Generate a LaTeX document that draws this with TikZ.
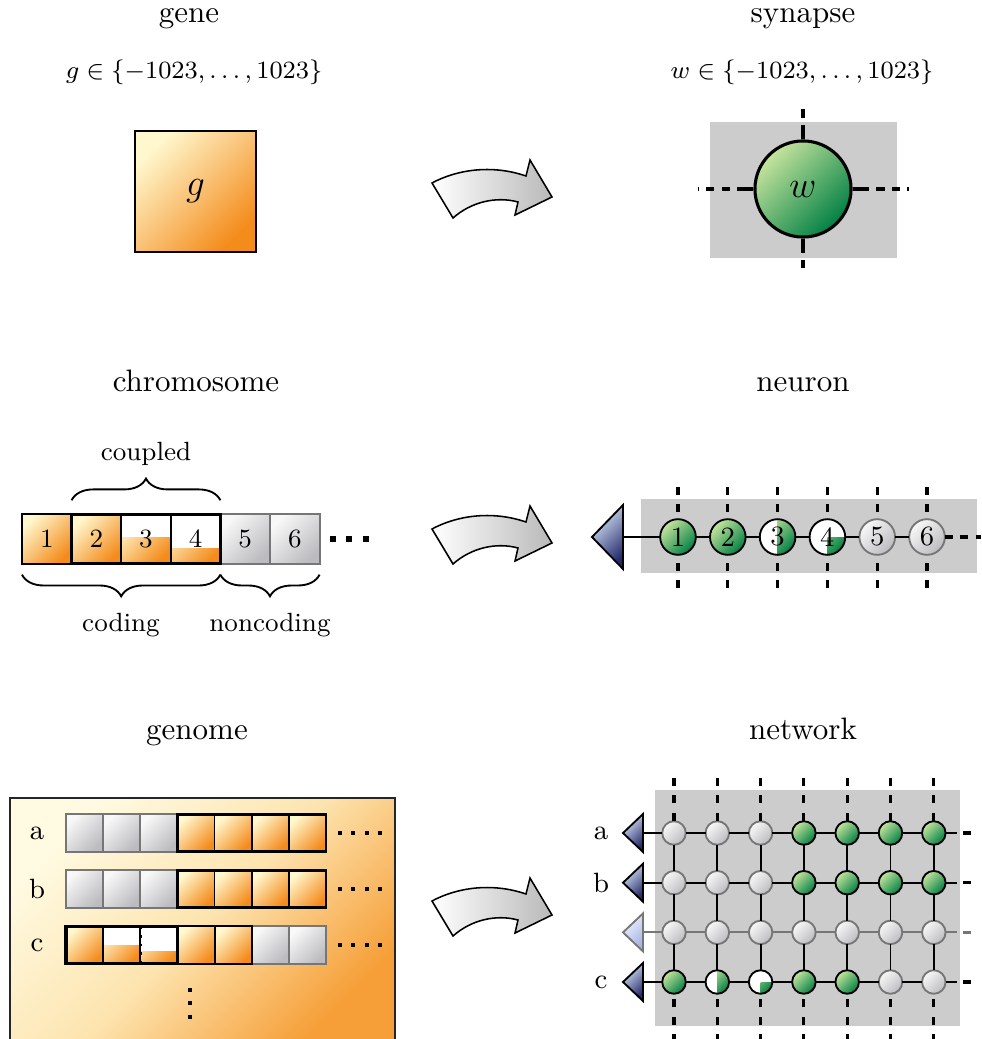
\documentclass[tikz,border=0pt]{standalone}
\usepackage{amsmath}
\usetikzlibrary{positioning,calc,decorations.pathreplacing}

\definecolor{orL}{RGB}{255,247,205}
\definecolor{orD}{RGB}{244,140,28}
\definecolor{boxL}{RGB}{255,250,225}
\definecolor{boxM}{RGB}{253,228,175}
\definecolor{boxD}{RGB}{246,158,55}
\definecolor{grL}{RGB}{248,248,248}
\definecolor{grD}{RGB}{188,188,192}
\definecolor{gnL}{RGB}{198,228,158}
\definecolor{gnD}{RGB}{0,128,68}
\definecolor{blL}{RGB}{218,234,250}
\definecolor{blD}{RGB}{38,42,108}
\definecolor{fadeL}{RGB}{240,245,255}
\definecolor{fadeD}{RGB}{165,178,228}
\definecolor{bgGray}{RGB}{204,204,204}
\definecolor{edgeGray}{RGB}{118,118,118}
\definecolor{arrowGray}{RGB}{185,185,185}

\tikzset{
    orangefill/.style={top color=orL, bottom color=orD, shading angle=45},
    grayfill/.style={top color=grL, bottom color=grD, shading angle=45},
    greenfill/.style={top color=gnL, bottom color=gnD, shading angle=45},
    bluefill/.style={top color=blL, bottom color=blD, shading angle=45},
    title/.style={anchor=base},
    formula/.style={anchor=base, font=\fontsize{8.3}{10}\selectfont},
    lbl/.style={anchor=base, font=\fontsize{8.5}{10}\selectfont},
    cell/.style={rectangle, minimum size=16pt, inner sep=0pt, outer sep=0pt, anchor=west, semithick, font=\fontsize{8.5}{10}\selectfont},
    ocell/.style={cell, orangefill, draw=black},
    gcell/.style={cell, grayfill, draw=edgeGray},
    pcell/.style={cell, fill=white, draw=black, path picture={\path[orangefill] (path picture bounding box.south west) rectangle ($(path picture bounding box.south east)!#1!(path picture bounding box.north east)$);}},
    small cell/.style={minimum size=12pt},
    soma/.style={circle, inner sep=0pt, outer sep=0pt, semithick, minimum size=11.5pt, font=\small},
    gsoma/.style={soma, greenfill, draw=black},
    xsoma/.style={soma, grayfill, draw=edgeGray},
    hsoma/.style={soma, fill=white, draw=black, path picture={\path[greenfill] (path picture bounding box.north) rectangle (path picture bounding box.south east);}},
    qsoma/.style={soma, fill=white, draw=black, path picture={\path[greenfill] (path picture bounding box.center) rectangle (path picture bounding box.south east);}},
    net/.style={minimum size=7.6pt},
    axon/.style={draw=black, semithick, bluefill},
    genebox/.style={rectangle, draw=black, thick, orangefill, minimum size=39pt, inner sep=0pt, font=\large},
    wsoma/.style={circle, draw=black, line width=1pt, greenfill, minimum size=31pt, inner sep=0pt, font=\large},
    dline/.style={line width=1pt, dash pattern=on 2.6pt off 2.4pt},
    vline/.style={line width=1pt, dash pattern=on 2.6pt off 3pt},
    dots/.style={line width=1.3pt, dash pattern=on 1.3pt off 3pt},
    brace/.style={decorate, decoration={brace, amplitude=7pt}, semithick},
    bigarrow/.pic={
        \path[draw=black, line width=0.5pt, left color=white, right color=arrowGray]
            (1,24) .. controls (25,11) and (60,5) .. (95,17) -- (99,1) -- (121,38)
            -- (84,56) -- (87,43) .. controls (65,37) and (40,43) .. (22,59) -- cycle;
    }
}

\begin{document}
\begin{tikzpicture}[x=0.3226pt, y=-0.3226pt]
\useasboundingbox (0,0) rectangle (981,1039);

% gene and synapse
\node[title] (tgene) at (189,23) {gene};
\node[formula] (fgene) at (194,79) {$g\in\{-1023,\dots,1023\}$};
\node[genebox] (g) at (195.5,191.5) {$g$};

\pic at (431,159) {bigarrow};

\node[title] (tsyn) at (803,23) {synapse};
\node[formula] (fsyn) at (802,79) {$w\in\{-1023,\dots,1023\}$};
\fill[bgGray] (710,122) rectangle (897,258);
\node[wsoma] (w) at (803,189) {$w$};
\coordinate (wN) at (803,108);  \coordinate (sN) at (803,125);
\coordinate (wS) at (803,270);  \coordinate (sS) at (803,253);
\coordinate (wW) at (698,189);  \coordinate (sW) at (737,189);
\coordinate (wE) at (909,189);  \coordinate (sE) at (869,189);
\foreach \d in {N,S,W,E}{
    \draw[line width=1pt] (w) -- (s\d);
    \draw[dline, dash phase=2.6pt] (s\d) -- (w\d);
}

% chromosome
\node[title] (tchr) at (196,391) {chromosome};
\node[ocell] (c1) at (22,539) {1};
\node[ocell, right=0pt of c1] (c2) {2};
\node[pcell=0.54, right=0pt of c2] (c3) {3};
\node[pcell=0.3, right=0pt of c3] (c4) {4};
\node[gcell, right=0pt of c4] (c5) {5};
\node[gcell, right=0pt of c5] (c6) {6};
\draw[dotted] (c2.north east) -- (c2.south east);
\draw[dotted] (c3.north east) -- (c3.south east);
\draw[thick] (c1.north west) rectangle (c1.south east);
\draw[line width=1pt] (c2.north west) rectangle (c4.south east);
\coordinate (cdL) at (330,539);
\coordinate (cdR) at (369,539);
\draw[line width=1.9pt, dash pattern=on 1.9pt off 3.4pt] (cdL) -- (cdR);

\draw[brace] ([yshift=4.5pt]c2.north west) -- ([yshift=4.5pt]c4.north east);
\node[lbl] (cpl) at (146,460) {coupled};
\draw[brace] ([yshift=-3.5pt]c4.south east) -- ([yshift=-3.5pt]c1.south west);
\draw[brace] ([yshift=-3.5pt]c6.south east) -- ([yshift=-3.5pt]c5.south west);
\node[lbl] (cod) at (121,631) {coding};
\node[lbl] (ncod) at (270,631) {noncoding};

\pic at (431,505) {bigarrow};

% neuron
\node[title] (tneu) at (803,391) {neuron};
\fill[bgGray] (641,499) rectangle (977,573);
\foreach \s [count=\i] in {gsoma,gsoma,hsoma,qsoma,xsoma,xsoma}
    \node[\s] (n\i) at ({678+49.8*(\i-1)},537) {\i};
\coordinate (t0) at (623,537);
\path[axon] (t0) ++(0,-32) -- ++(-31,32) -- ++(31,32) -- cycle;
\draw[semithick] (t0) -- (n1);
\foreach \i [count=\j from 2] in {1,...,5}
    \draw[semithick] (n\i) -- (n\j);
\coordinate (nE) at (981,537);
\draw[dline] (n6) -- (nE);
\foreach \i in {1,...,6}{
    \coordinate (nt\i) at ({678+49.8*(\i-1)},487);
    \coordinate (nb\i) at ({678+49.8*(\i-1)},588);
    \draw[vline] (nt\i) -- (n\i);
    \draw[vline] (nb\i) -- (n\i);
}

% genome
\node[title] (tgen) at (197,739) {genome};
\path[draw=black!85, semithick, top color=boxL, bottom color=boxD, middle color=boxM, shading angle=45]
    (10,798) rectangle (395,1045);
\foreach \r/\y/\row in {1/833/{gcell,gcell,gcell,ocell,ocell,ocell,ocell},
                        2/889/{gcell,gcell,gcell,ocell,ocell,ocell,ocell}}{
    \foreach \s [count=\k] in \row
        \node[\s, small cell] (g\r-\k) at ({66+37.14*(\k-1)},\y) {};
    \draw[thick] (g\r-4.north west) rectangle (g\r-7.south east);
}
\node[ocell, small cell] (g3-1) at (66,945) {};
\node[pcell=0.49, small cell, right=0pt of g3-1] (g3-2) {};
\node[pcell=0.33, small cell, right=0pt of g3-2] (g3-3) {};
\node[ocell, small cell, right=0pt of g3-3] (g3-4) {};
\node[ocell, small cell, right=0pt of g3-4] (g3-5) {};
\node[gcell, small cell, right=0pt of g3-5] (g3-6) {};
\node[gcell, small cell, right=0pt of g3-6] (g3-7) {};
\draw[semithick] (g3-4.north west) rectangle (g3-5.south east);
\draw[dotted, thick] (g3-1.north east) -- (g3-1.south east);
\draw[dotted, thick] (g3-2.north east) -- (g3-2.south east);
\draw[line width=1pt] (g3-1.north west) rectangle (g3-3.south east);
\node[font=\small] (ga) at (37,833) {a};
\node[font=\small] (gb) at (37,889) {b};
\node[font=\small] (gc) at (37,945) {c};
\foreach \r/\y in {1/833,2/889,3/945}{
    \coordinate (gdL\r) at (338,\y);
    \coordinate (gdR\r) at (383,\y);
    \draw[dots] (gdL\r) -- (gdR\r);
}
\coordinate (gvT) at (190,988);
\coordinate (gvB) at (190,1020);
\draw[dots] (gvT) -- (gvB);

\pic at (431,877) {bigarrow};

% network
\node[title] (tnet) at (803,739) {network};
\fill[bgGray] (655,790) rectangle (960,1026);
\foreach \r/\y/\row in {1/833/{xsoma,xsoma,xsoma,gsoma,gsoma,gsoma,gsoma},
                        2/882.7/{xsoma,xsoma,xsoma,gsoma,gsoma,gsoma,gsoma},
                        3/932.4/{xsoma,xsoma,xsoma,xsoma,xsoma,xsoma,xsoma},
                        4/982/{gsoma,hsoma,qsoma,gsoma,gsoma,xsoma,xsoma}}{
    \foreach \s [count=\k] in \row
        \node[\s, net] (m\r-\k) at ({674+43.3*(\k-1)},\y) {};
    \coordinate (t\r) at (643,\y);
    \coordinate (re\r) at (957,\y);
    \coordinate (ds\r) at (963,\y);
    \coordinate (de\r) at (971,\y);
}
\foreach \k in {1,...,7}{
    \coordinate (vt\k) at ({674+43.3*(\k-1)},778);
    \coordinate (vb\k) at ({674+43.3*(\k-1)},1042);
    \draw[vline] (vt\k) -- (m1-\k);
    \draw[vline] (vb\k) -- (m4-\k);
    \draw[semithick] (m1-\k) -- (m2-\k) -- (m3-\k) -- (m4-\k);
}
\foreach \r/\c in {1/black,2/black,3/edgeGray,4/black}{
    \foreach \k [count=\kk from 2] in {1,...,6}
        \draw[semithick, \c] (m\r-\k) -- (m\r-\kk);
    \draw[semithick, \c] (t\r) -- (m\r-1);
    \draw[semithick, \c] (m\r-7) -- (re\r);
    \draw[line width=1pt, \c] (ds\r) -- (de\r);
}
\foreach \r in {1,2,4}
    \path[axon] (t\r) ++(0,-19) -- ++(-20,19) -- ++(20,19) -- cycle;
\path[draw=edgeGray, semithick, top color=fadeL, bottom color=fadeD, shading angle=45]
    (t3) ++(0,-19) -- ++(-20,19) -- ++(20,19) -- cycle;
\node[font=\small] (na) at (601,833) {a};
\node[font=\small] (nb) at (601,882.7) {b};
\node[font=\small] (nc) at (601,982) {c};
\end{tikzpicture}
\end{document}
